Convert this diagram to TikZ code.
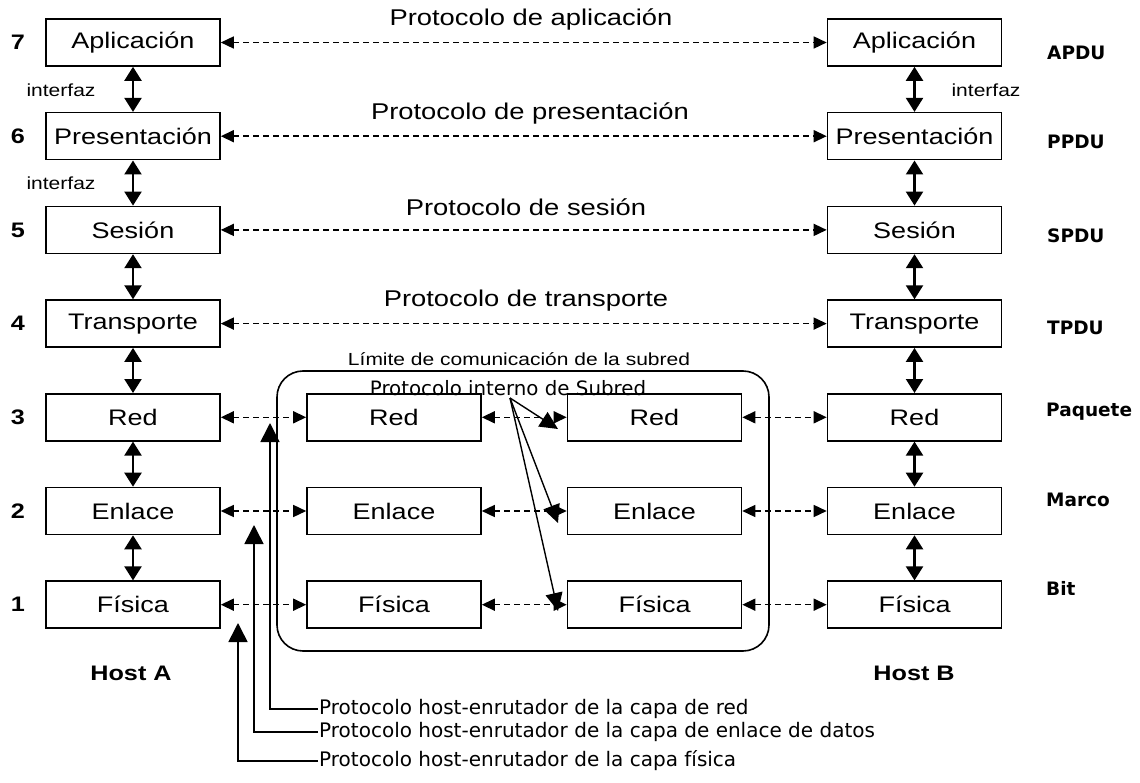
\documentclass[tikz,border=0pt]{standalone}
\usepackage{fontspec}
\setmainfont{Liberation Sans}[FakeStretch=1.2]
\newfontfamily\handfont{DejaVu Sans}
\usetikzlibrary{arrows.meta}

\tikzset{
  layerbox/.style={draw, line width=1.6pt, minimum width=174pt, minimum height=47pt,
    inner sep=0pt, font=\fontsize{22.5}{24}\selectfont},
  vertarrow/.style={line width=2.2pt, {Triangle[width=17pt,length=14pt]}-{Triangle[width=17pt,length=14pt]}},
  peerarrow/.style={line width=1.5pt, dash pattern=on 6pt off 4pt,
    {Triangle[width=12pt,length=13pt]}-{Triangle[width=12pt,length=13pt]}},
  protolabel/.style={font=\fontsize{22.8}{24}\selectfont},
  sidelabel/.style={font=\fontsize{17.5}{20}\selectfont},
  numlabel/.style={font=\fontsize{21}{22}\selectfont\bfseries},
  pdulabel/.style={anchor=west, inner sep=0pt, font=\handfont\bfseries\fontsize{18.5}{20}\selectfont},
  hostlabel/.style={font=\fontsize{21}{22}\selectfont\bfseries},
  notelabel/.style={anchor=west, inner sep=1pt, font=\handfont\fontsize{20}{21}\selectfont},
  pointer/.style={line width=1.6pt, -{Triangle[width=19pt,length=19pt]}},
  subpointer/.style={line width=1.4pt, -{Triangle[width=17pt,length=18pt]}},
}

\begin{document}
\begin{tikzpicture}[x=1pt, y=-1pt]
\useasboundingbox (0,0) rectangle (1140,783);

% subnet boundary
\draw[line width=1.6pt, rounded corners=26pt] (277,371) rectangle (769,651);
\node[sidelabel] (limit) at (519,359) {Límite de comunicación de la subred};

% host A, host B and the two routers
\foreach \n/\t/\y in {7/Aplicación/42.5, 6/Presentación/136.2, 5/Sesión/229.9,
                      4/Transporte/323.6, 3/Red/417.3, 2/Enlace/511, 1/Física/604.7} {
  \node[layerbox] (a\n) at (133,\y) {\t};
  \node[layerbox] (b\n) at (914.5,\y) {\t};
  \node[numlabel] (n\n) at (18,\y) {\n};
}
\foreach \n/\t/\y in {3/Red/417.3, 2/Enlace/511, 1/Física/604.7} {
  \node[layerbox] (r\n) at (394,\y) {\t};
  \node[layerbox] (s\n) at (654.5,\y) {\t};
}

% interfaces between adjacent layers
\foreach \u/\l in {7/6, 6/5, 5/4, 4/3, 3/2, 2/1} {
  \draw[vertarrow] (a\u) -- (a\l);
  \draw[vertarrow] (b\u) -- (b\l);
}
\node[sidelabel] (ifa1) at (61,90) {interfaz};
\node[sidelabel] (ifa2) at (61,183) {interfaz};
\node[sidelabel] (ifb1) at (986,90) {interfaz};

% peer protocols, upper layers
\foreach \n in {7,6,5,4} \draw[peerarrow] (a\n) -- (b\n);
\node[protolabel] (p7) at (531,19) {Protocolo de aplicación};
\node[protolabel] (p6) at (530,113) {Protocolo de presentación};
\node[protolabel] (p5) at (526,207) {Protocolo de sesión};
\node[protolabel] (p4) at (526,301) {Protocolo de transporte};

% peer protocols, subnet layers
\foreach \n in {3,2,1} {
  \draw[peerarrow] (a\n) -- (r\n);
  \draw[peerarrow] (r\n) -- (s\n);
  \draw[peerarrow] (s\n) -- (b\n);
}

% data units
\node[pdulabel] (u7) at (1047,53) {APDU};
\node[pdulabel] (u6) at (1047,142) {PPDU};
\node[pdulabel] (u5) at (1047,236) {SPDU};
\node[pdulabel] (u4) at (1047,328) {TPDU};
\node[pdulabel] (u3) at (1046,412) {Paquete};
\node[pdulabel] (u2) at (1046,500) {Marco};
\node[pdulabel] (u1) at (1046,588) {Bit};

\node[hostlabel] (ha) at (131,673) {Host A};
\node[hostlabel] (hb) at (914,673) {Host B};

% internal subnet protocol
\node[font=\handfont\fontsize{19.8}{21}\selectfont, inner sep=0pt] (intern) at (508,388) {Protocolo interno de Subred};
\coordinate (src) at (510,398);
\coordinate (t3) at (558,429);
\coordinate (t2) at (558,523);
\coordinate (t1) at (558,611);
\draw[subpointer] (src) -- (t3);
\draw[subpointer] (src) -- (t2);
\draw[subpointer] (src) -- (t1);

% host-router protocols
\node[notelabel] (h3) at (318,709) {Protocolo host-enrutador de la capa de red};
\node[notelabel] (h2) at (318,732) {Protocolo host-enrutador de la capa de enlace de datos};
\node[notelabel] (h1) at (318,761) {Protocolo host-enrutador de la capa física};
\coordinate (k3) at (270,423);
\coordinate (k2) at (254,525);
\coordinate (k1) at (238,623);
\draw[pointer] (h3.west) -| (k3);
\draw[pointer] (h2.west) -| (k2);
\draw[pointer] (h1.west) -| (k1);
\end{tikzpicture}
\end{document}
